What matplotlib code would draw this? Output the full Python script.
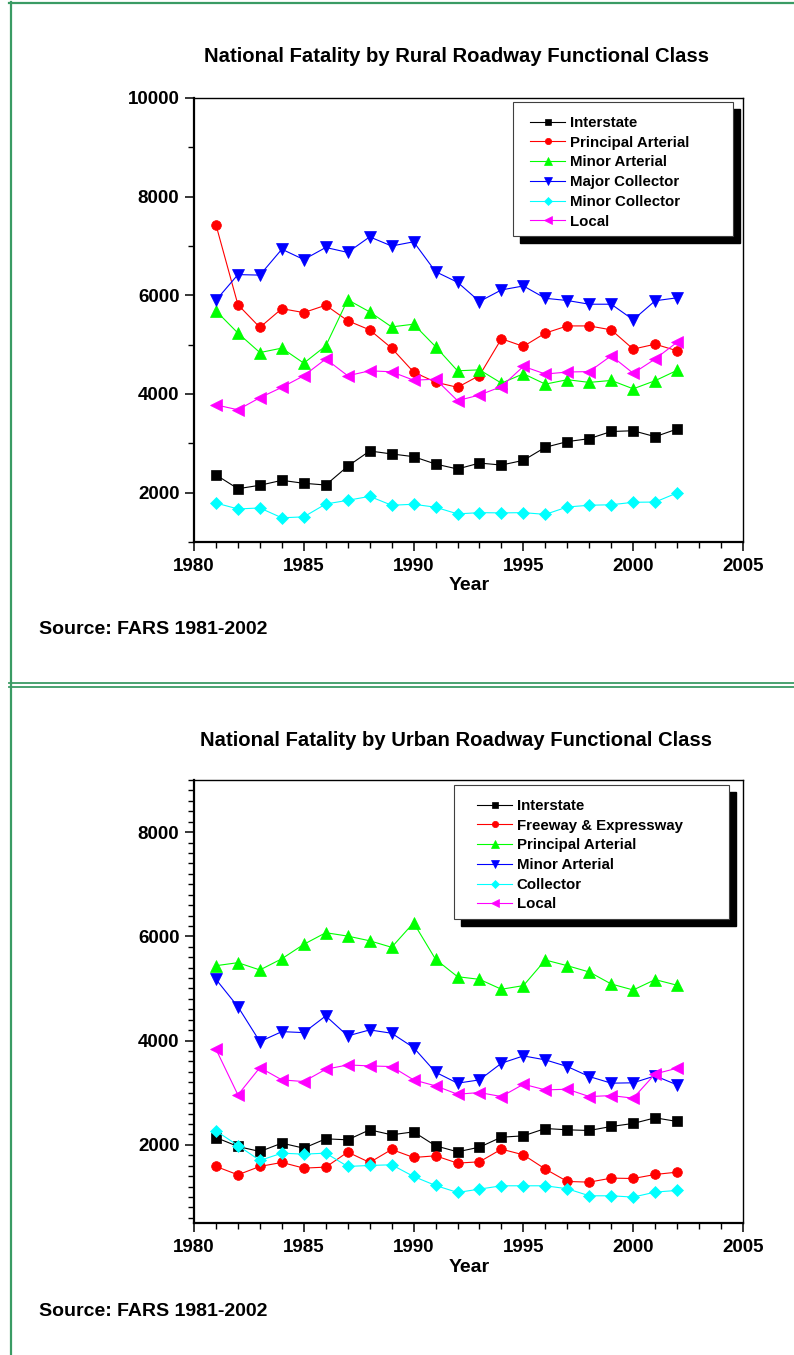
# графики смертности по функциональным классам дорог (FARS 1981-2002)
import matplotlib
matplotlib.use("Agg")
import matplotlib.pyplot as plt
from matplotlib.lines import Line2D
from matplotlib.patches import Rectangle
from matplotlib.ticker import MultipleLocator

plt.rcParams["font.family"] = ["Liberation Sans", "DejaVu Sans"]
plt.rcParams["font.weight"] = "bold"

years = list(range(1981, 2003))

# сельские дороги
rural_labels = ["Interstate", "Principal Arterial", "Minor Arterial",
                "Major Collector", "Minor Collector", "Local"]
rural_interstate = [2360, 2080, 2150, 2250, 2190, 2155, 2535, 2845, 2785, 2730, 2580,
                    2480, 2600, 2560, 2655, 2920, 3035, 3095, 3240, 3255, 3135, 3290]
rural_principal = [7430, 5810, 5350, 5730, 5650, 5800, 5485, 5300, 4930, 4445, 4240,
                   4135, 4375, 5120, 4965, 5235, 5380, 5380, 5300, 4910, 5010, 4875]
rural_minor_art = [5685, 5235, 4840, 4930, 4625, 4975, 5910, 5665, 5360, 5415, 4960,
                   4470, 4490, 4220, 4410, 4200, 4290, 4235, 4275, 4105, 4270, 4480]
rural_major_col = [5900, 6420, 6410, 6935, 6725, 6970, 6870, 7185, 7000, 7085, 6480,
                   6265, 5875, 6110, 6190, 5940, 5895, 5820, 5820, 5505, 5890, 5950]
rural_minor_col = [1790, 1670, 1690, 1490, 1510, 1770, 1845, 1925, 1745, 1765, 1705,
                   1570, 1595, 1590, 1595, 1560, 1710, 1745, 1755, 1805, 1810, 1995]
rural_local = [3780, 3680, 3925, 4135, 4370, 4710, 4370, 4470, 4450, 4280, 4300,
               3865, 3980, 4150, 4560, 4405, 4445, 4455, 4775, 4420, 4710, 5050]

# городские дороги
urban_labels = ["Interstate", "Freeway & Expressway", "Principal Arterial",
                "Minor Arterial", "Collector", "Local"]
urban_interstate = [2140, 1968, 1872, 2032, 1936, 2115, 2096, 2288, 2192, 2249, 1981,
                    1866, 1955, 2147, 2172, 2313, 2288, 2275, 2352, 2410, 2518, 2448]
urban_freeway = [1585, 1425, 1585, 1662, 1553, 1572, 1860, 1662, 1911, 1757, 1789,
                 1649, 1674, 1917, 1808, 1534, 1297, 1284, 1361, 1354, 1431, 1476]
urban_principal = [5437, 5495, 5355, 5570, 5847, 6070, 6005, 5915, 5790, 6260, 5560,
                   5226, 5175, 4985, 5055, 5546, 5437, 5316, 5086, 4971, 5170, 5062]
urban_minor_art = [5175, 4650, 3980, 4172, 4153, 4473, 4090, 4205, 4141, 3866, 3393,
                   3183, 3246, 3566, 3706, 3630, 3502, 3310, 3183, 3190, 3323, 3150]
urban_collector = [2268, 1987, 1700, 1840, 1821, 1840, 1585, 1604, 1617, 1393, 1220,
                   1086, 1150, 1214, 1214, 1214, 1157, 1022, 1022, 997, 1093, 1125]
urban_local = [3835, 2958, 3482, 3246, 3214, 3450, 3533, 3514, 3502, 3246, 3131,
               2971, 3003, 2926, 3163, 3054, 3067, 2926, 2945, 2895, 3361, 3470]

colors = ["#000000", "#ff0000", "#00ff00", "#0000ff", "#00ffff", "#ff00ff"]
markers = ["s", "o", "^", "v", "D", "<"]
msizes = [6.5, 7, 8, 8, 6.5, 8]

W, H = 794, 1355
fig = plt.figure(figsize=(W / 100, H / 100), dpi=100)


def fx(px):
    return px / W


def fy(py):
    return 1 - py / H


def panel(top, bottom, ymin, ymax, ymajor, yminor, series, labels,
          title, title_y, leg_box, leg_anchor):
    ax = fig.add_axes([fx(194), fy(bottom), fx(743) - fx(194), fy(top) - fy(bottom)])
    handles = []
    for vals, c, m, ms, lab in zip(series, colors, markers, msizes, labels):
        h, = ax.plot(years, vals, color=c, lw=0.8, marker=m, ms=ms,
                     mfc=c, mec=c, mew=0.5, label=lab)
        handles.append(h)

    ax.set_xlim(1980, 2005)
    ax.set_ylim(ymin, ymax)
    ax.xaxis.set_major_locator(MultipleLocator(5))
    ax.xaxis.set_minor_locator(MultipleLocator(1))
    ax.yaxis.set_major_locator(MultipleLocator(ymajor))
    ax.yaxis.set_minor_locator(MultipleLocator(yminor))
    ax.tick_params(which="major", direction="out", length=6.5, width=1.1,
                   labelsize=13.5, pad=4)
    ax.tick_params(which="minor", direction="out", length=4.3, width=1.0)
    ax.tick_params(axis="x", which="major", pad=5)
    for lab in ax.get_xticklabels() + ax.get_yticklabels():
        lab.set_fontweight("bold")
    ax.spines["left"].set_linewidth(1.6)
    ax.spines["bottom"].set_linewidth(1.6)
    ax.spines["top"].set_linewidth(1.0)
    ax.spines["right"].set_linewidth(1.0)

    # заголовок и подписи
    fig.text(fx(456), fy(title_y), title, ha="center", va="center",
             fontsize=14.6, fontweight="bold")
    fig.text(fx(469), fy(bottom + 44), "Year", ha="center", va="center",
             fontsize=14, fontweight="bold")
    fig.text(fx(39), fy(bottom + 88), "Source: FARS 1981-2002", ha="left",
             va="center", fontsize=14, fontweight="bold")

    # рамка легенды с чёрной тенью
    x0, y0, x1, y1 = leg_box
    fig.add_artist(Rectangle((fx(x0 + 7), fy(y1 + 7)), fx(x1) - fx(x0),
                             fy(y0) - fy(y1), transform=fig.transFigure,
                             facecolor="black", edgecolor="black", zorder=5))
    fig.add_artist(Rectangle((fx(x0), fy(y1)), fx(x1) - fx(x0), fy(y0) - fy(y1),
                             transform=fig.transFigure, facecolor="white",
                             edgecolor="#404040", lw=0.8, zorder=6))
    leg = fig.legend(handles=handles, loc="upper left",
                     bbox_to_anchor=(fx(leg_anchor[0]), fy(leg_anchor[1])),
                     frameon=False, borderpad=0, borderaxespad=0,
                     labelspacing=0.38, handlelength=2.35,
                     handletextpad=0.3, markerscale=0.65,
                     prop={"weight": "bold", "size": 10.8})
    leg.set_zorder(7)
    return ax


panel(98, 542, 1000, 10000, 2000, 1000,
      [rural_interstate, rural_principal, rural_minor_art,
       rural_major_col, rural_minor_col, rural_local],
      rural_labels, "National Fatality by Rural Roadway Functional Class", 57,
      (513, 102, 733, 236), (530, 116))

panel(780, 1223, 500, 9000, 2000, 200,
      [urban_interstate, urban_freeway, urban_principal,
       urban_minor_art, urban_collector, urban_local],
      urban_labels, "National Fatality by Urban Roadway Functional Class", 741,
      (454, 785, 729, 919), (477, 799))

# зелёные линии-разделители страницы
green = "#3a9b64"
fig.add_artist(Line2D([fx(9), 1], [fy(3), fy(3)], transform=fig.transFigure,
                      color=green, lw=1.6))
fig.add_artist(Line2D([fx(11), fx(11)], [fy(2), 0], transform=fig.transFigure,
                      color=green, lw=1.6))
fig.add_artist(Line2D([fx(9), 1], [fy(683), fy(683)], transform=fig.transFigure,
                      color=green, lw=1.3))
fig.add_artist(Line2D([fx(9), 1], [fy(687), fy(687)], transform=fig.transFigure,
                      color=green, lw=1.3))

plt.savefig("out.png", dpi=100)
